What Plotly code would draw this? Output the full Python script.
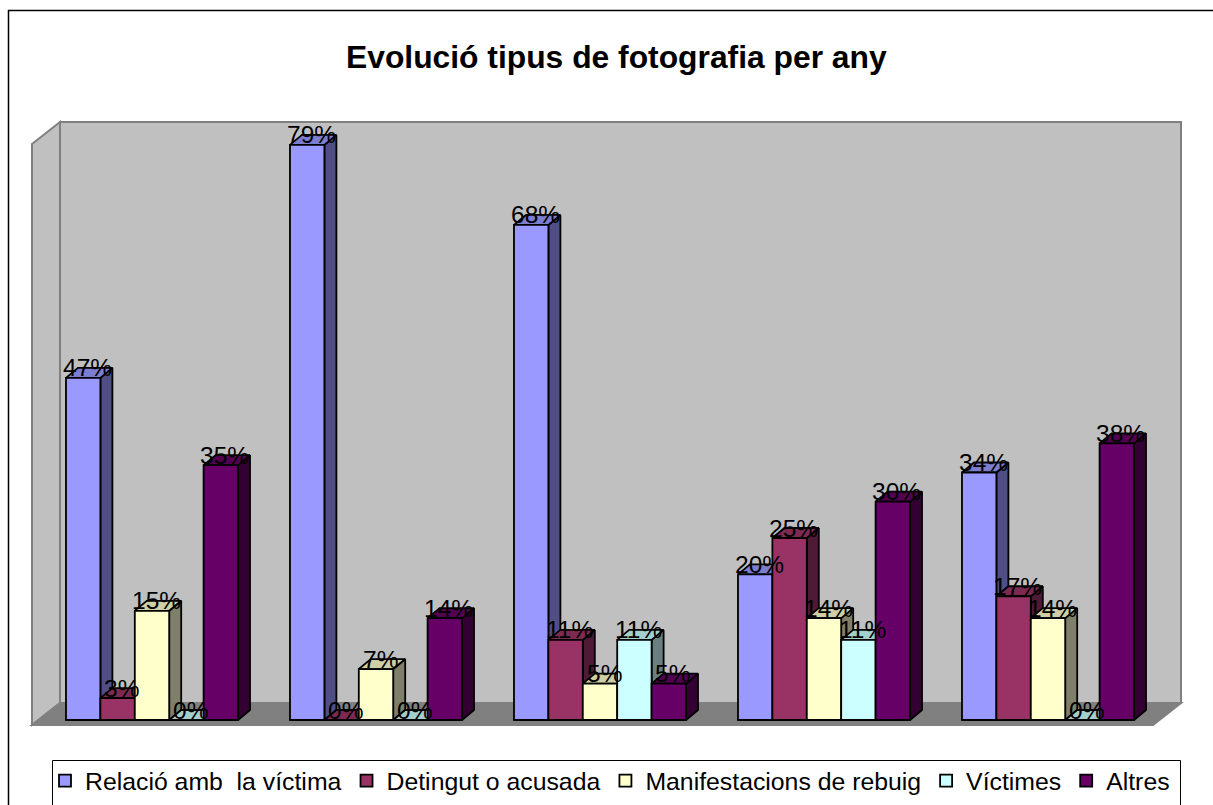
import plotly.graph_objects as go

# ---- data ----
title = "Evolució tipus de fotografia per any"
groups = [0, 1, 2, 3, 4]
series_names = ["Relació amb  la víctima", "Detingut o acusada", "Manifestacions de rebuig", "Víctimes", "Altres"]
relacio = [47, 79, 68, 20, 34]
detingut = [3, 0, 11, 25, 17]
manifest = [15, 7, 5, 14, 14]
victimes = [0, 0, 11, 11, 0]
altres = [35, 14, 5, 30, 38]
all_series = [relacio, detingut, manifest, victimes, altres]
front_colors = ["#9999FF", "#993366", "#FFFFCC", "#CCFFFF", "#660066"]
side_colors = ["#4F4F85", "#4F1A35", "#80806A", "#6A8080", "#330033"]
top_colors = ["#7D7DD0", "#7D2A53", "#CFCFA6", "#A3CFCF", "#530053"]

# ---- layout geometry ----
W, H = 1213, 805
GROUP_STEP = 224.0
PX_PER_PCT = 7.28
X0_PX = 152.0     # centre of the first group
Y0_PX = 720.0     # baseline
BAR_W = 0.768 / 5
DX = 12 / GROUP_STEP
DY = 10 / PX_PER_PCT
LINE_W = 1.8

x_range = [(0 - X0_PX) / GROUP_STEP, (W - X0_PX) / GROUP_STEP]
y_range = [(Y0_PX - H) / PX_PER_PCT, Y0_PX / PX_PER_PCT]


def px(x):
    return x / W


def py(y):
    return 1 - y / H


def poly(points, fill, line="#808080", width=2):
    path = "M" + " L".join(f"{px(x):.5f},{py(y):.5f}" for x, y in points) + " Z"
    return dict(type="path", xref="paper", yref="paper", path=path, fillcolor=fill,
                line=dict(color=line, width=width), layer="below")


shapes = [
    poly([(60, 122), (1181, 122), (1181, 703), (60, 703)], "#C0C0C0"),
    poly([(32, 144), (60, 122), (60, 703), (32, 725)], "#C0C0C0"),
    poly([(32, 725), (60, 703), (1181, 703), (1153, 725)], "#808080"),
    dict(type="path", xref="paper", yref="paper",
         path=f"M{px(8.5)},{py(810)} L{px(8.5)},{py(10.5)} L{px(1215)},{py(10.5)}",
         line=dict(color="black", width=1.5), layer="below"),
    dict(type="rect", xref="paper", yref="paper", x0=px(52.5), x1=px(1180.5), y0=py(815), y1=py(760.5),
         line=dict(color="black", width=1), fillcolor="white", layer="below"),
]

traces = []
annotations = []
for j, (name, vals) in enumerate(zip(series_names, all_series)):
    side_x, side_y, top_x, top_y = [], [], [], []
    for g, v in zip(groups, vals):
        left = g - 2.5 * BAR_W + j * BAR_W
        right = left + BAR_W
        if v > 0:
            side_x += [right, right + DX, right + DX, right, right, None]
            side_y += [0, DY, v + DY, v, 0, None]
        top_x += [left, left + DX, right + DX, right, left, None]
        top_y += [v, v + DY, v + DY, v, v, None]
        annotations.append(dict(x=(left + right) / 2, y=v, xref="x", yref="y", text=f"{v}%",
                                showarrow=False, xanchor="center", yanchor="middle",
                                xshift=4, yshift=10,
                                font=dict(family="Liberation Sans", size=24.5, color="black")))
    line = dict(color="black", width=LINE_W)
    traces.append(go.Scatter(x=side_x, y=side_y, mode="lines", fill="toself", fillcolor=side_colors[j],
                             line=line, showlegend=False, hoverinfo="skip"))
    traces.append(go.Scatter(x=top_x, y=top_y, mode="lines", fill="toself", fillcolor=top_colors[j],
                             line=line, showlegend=False, hoverinfo="skip"))

for j, (name, vals) in enumerate(zip(series_names, all_series)):
    traces.append(go.Bar(x=groups, y=vals, name=name, xaxis="x2", yaxis="y2",
                         marker=dict(color=front_colors[j], line=dict(color="black", width=LINE_W))))

annotations.append(dict(x=px(616), y=py(57), xref="paper", yref="paper", text=f"<b>{title}</b>", showarrow=False,
                        xanchor="center", yanchor="middle",
                        font=dict(family="Liberation Sans", size=31.8, color="black")))

axis = dict(visible=False, showgrid=False, zeroline=False, fixedrange=True)
fig = go.Figure(traces)
fig.update_layout(
    width=W, height=H, margin=dict(l=0, r=0, t=0, b=0, autoexpand=False),
    paper_bgcolor="white", plot_bgcolor="rgba(0,0,0,0)",
    barmode="group", bargap=0.232, bargroupgap=0,
    xaxis=dict(range=x_range, domain=[0, 1], **axis),
    yaxis=dict(range=y_range, domain=[0, 1], **axis),
    xaxis2=dict(range=x_range, overlaying="x", **axis),
    yaxis2=dict(range=y_range, overlaying="y", **axis),
    shapes=shapes, annotations=annotations,
    legend=dict(orientation="h", x=px(45), xanchor="left", y=py(758), yanchor="top",
                bgcolor="rgba(0,0,0,0)", borderwidth=0, traceorder="normal",
                font=dict(family="Liberation Sans", size=24.8, color="black"),
                itemwidth=30),
)
fig.write_html("out.html", config={"displayModeBar": False},
               post_script="document.body.style.margin='0';document.body.style.overflow='hidden';")
